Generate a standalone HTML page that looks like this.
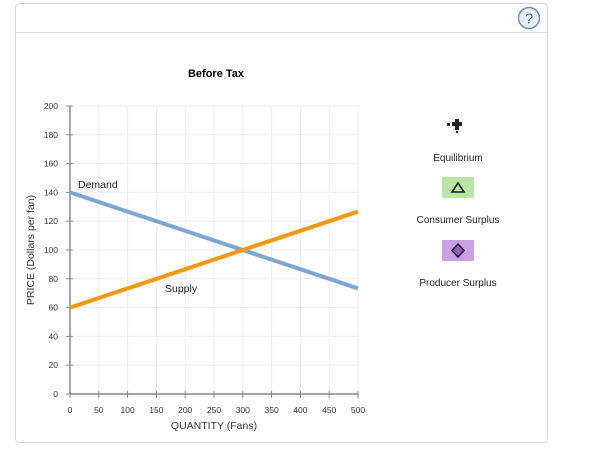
<!DOCTYPE html>
<html><head><meta charset="utf-8"><style>
body{margin:0;background:#fff;font-family:"Liberation Sans",Arial,sans-serif;}
svg text{font-family:"Liberation Sans",Arial,sans-serif;}
</style></head><body>
<svg width="600" height="457" xmlns="http://www.w3.org/2000/svg">
<rect x="15.5" y="3.5" width="532" height="439" rx="4" fill="#fff" stroke="#d6d6d6"/>
<line x1="16" y1="32.5" x2="547" y2="32.5" stroke="#dcdcdc"/>
<g>
<circle cx="529" cy="18" r="10.5" fill="#e6eef7" stroke="#6b8fbf" stroke-width="1.5"/>
<text x="529" y="23.5" text-anchor="middle" font-size="15" fill="#4a6fa5">?</text>
</g>
<text x="216" y="77" text-anchor="middle" font-size="11" font-weight="bold" fill="#000">Before Tax</text>
<g id="grid"></g>
<g id="axes"></g>
<g id="lines"></g>
<text x="78" y="188" font-size="10.5" fill="#222">Demand</text>
<text x="165" y="292" font-size="10.5" fill="#222">Supply</text>
<text x="214" y="429" text-anchor="middle" font-size="10.5" fill="#333">QUANTITY (Fans)</text>
<text transform="translate(34,250) rotate(-90)" text-anchor="middle" font-size="10.5" fill="#333">PRICE (Dollars per fan)</text>
<g>
<rect x="447" y="123" width="3" height="3" fill="#222"/>
<rect x="452" y="122" width="10" height="4" fill="#222"/><rect x="455" y="119" width="4" height="11" fill="#222"/><rect x="456" y="131" width="2" height="2" fill="#222"/>
<text x="458" y="161" text-anchor="middle" font-size="10" fill="#222">Equilibrium</text>
</g>
<g>
<rect x="442" y="177" width="32" height="21" fill="#b9e6a4"/>
<polygon points="458,183 464,192 452,192" fill="none" stroke="#222" stroke-width="1.6"/>
<text x="458" y="223" text-anchor="middle" font-size="10" fill="#222">Consumer Surplus</text>
</g>
<g>
<rect x="442" y="240" width="32" height="21" fill="#cb9fe3"/>
<polygon points="458,244 464,250.5 458,257 452,250.5" fill="#9b59c9" stroke="#222" stroke-width="1.6"/>
<text x="458" y="286" text-anchor="middle" font-size="10" fill="#222">Producer Surplus</text>
</g>
</svg>
<script>
const xTicks=[0,50,100,150,200,250,300,350,400,450,500];
const yTicks=[0,20,40,60,80,100,120,140,160,180,200];
const demandQ=[0,500];
const demandP=[140,73.3];
const supplyQ=[0,500];
const supplyP=[60,126.7];
const NS="http://www.w3.org/2000/svg";
const X=q=>70+q*(288/500);
const Y=p=>394-p*(288/200);
function mk(t,a,parent){const e=document.createElementNS(NS,t);for(const k in a)e.setAttribute(k,a[k]);parent.appendChild(e);return e;}
const grid=document.getElementById('grid'),axes=document.getElementById('axes'),lines=document.getElementById('lines');
xTicks.forEach(v=>{
 if(v>0){const g=mk('line',{x1:X(v),x2:X(v),y1:Y(200),y2:Y(0),stroke:'#ececec'},grid);
 
 }
 const t=mk('line',{x1:X(v),x2:X(v),y1:Y(0)-3,y2:Y(0)+4,stroke:'#888'},axes);
 
 
 const l=mk('text',{x:X(v),y:Y(0)+19,'text-anchor':'middle','font-size':'8.5',fill:'#333'},axes);l.textContent=v;
 
 
});
yTicks.forEach(v=>{
 if(v>0){const g=mk('line',{x1:X(0),x2:X(500),y1:Y(v),y2:Y(v),stroke:'#ececec'},grid);
 
 }
 const t=mk('line',{x1:X(0)-4,x2:X(0)+3,y1:Y(v),y2:Y(v),stroke:'#888'},axes);
 
 
 const l=mk('text',{x:X(0)-12,y:Y(v)+3,'text-anchor':'end','font-size':'8.5',fill:'#333'},axes);l.textContent=v;
 
 
});
const xa=mk('line',{x1:X(0),x2:X(500),y1:Y(0),y2:Y(0),stroke:'#888','stroke-width':1.5},axes);


const ya=mk('line',{x1:X(0),x2:X(0),y1:Y(0),y2:Y(200),stroke:'#888','stroke-width':1.5},axes);


const d=mk('line',{x1:X(demandQ[0]),y1:Y(demandP[0]),x2:X(demandQ[1]),y2:Y(demandP[1]),stroke:'#7ba7d1','stroke-width':4},lines);


const s=mk('line',{x1:X(supplyQ[0]),y1:Y(supplyP[0]),x2:X(supplyQ[1]),y2:Y(supplyP[1]),stroke:'#f7970e','stroke-width':4},lines);


</script>
</body></html>
